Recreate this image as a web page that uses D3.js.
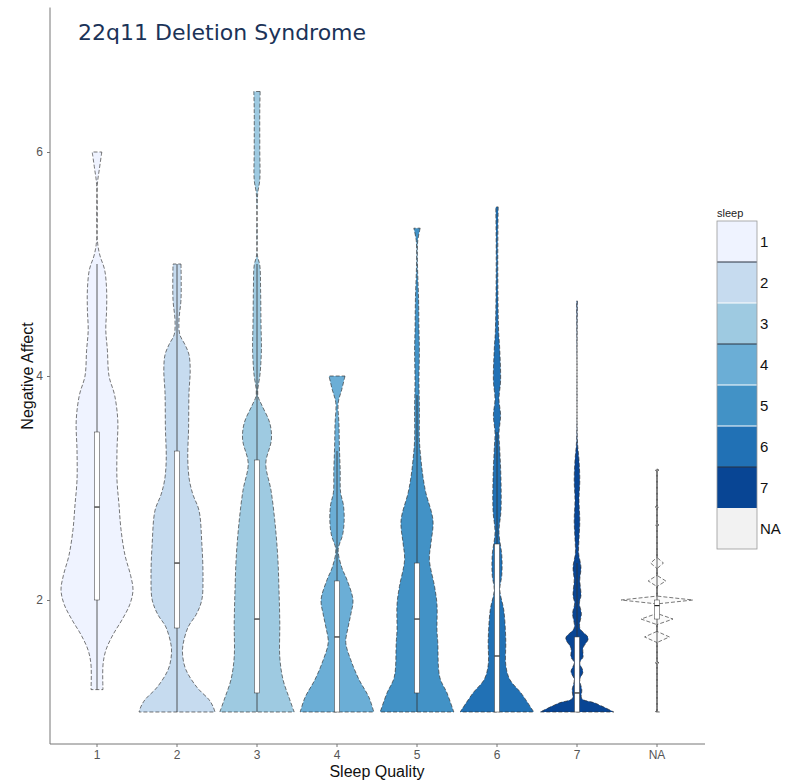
<!DOCTYPE html>
<html><head><meta charset="utf-8">
<script src="https://cdn.jsdelivr.net/npm/d3@7/dist/d3.min.js"></script>
<style>body{margin:0;background:#fff}</style>
</head><body><svg id="c" width="794" height="780"></svg>
<script>
const categories = ["1","2","3","4","5","6","7","NA"];
const fillColors = ["#eff3ff","#c6dbef","#9ecae1","#6baed6","#4292c6","#2171b5","#084594","#f2f2f2"];
const yTicks = [2,4,6];
const legendLabels = ["1","2","3","4","5","6","7","NA"];

// violin outlines: [Negative Affect value, relative density (half width)]
const violin1 = [[6.0,.12],[5.85,.06],[5.71,.01],[5.21,.01],[5.08,.07],[4.95,.19],[4.77,.24],[4.59,.24],[4.41,.22],[4.23,.26],[4.0,.3],[3.83,.44],[3.6,.52],[3.34,.5],[3.07,.5],[2.85,.55],[2.63,.6],[2.4,.7],[2.22,.84],[2.09,.9],[1.96,.82],[1.82,.62],[1.69,.4],[1.55,.22],[1.42,.15],[1.2,.15]];
const violin2 = [[5.0,.1],[4.68,.1],[4.5,.05],[4.37,.07],[4.28,.2],[4.19,.3],[4.05,.33],[3.85,.3],[3.54,.29],[3.25,.27],[3.07,.31],[2.94,.4],[2.8,.55],[2.51,.62],[2.2,.65],[2.0,.62],[1.87,.48],[1.76,.28],[1.6,.15],[1.51,.14],[1.38,.22],[1.22,.5],[1.11,.8],[1.05,.9],[1.0,.95]];
const violin3 = [[6.54,.08],[6.38,.07],[6.02,.07],[5.75,.07],[5.64,.02],[5.57,.01],[5.08,.01],[4.99,.07],[4.77,.09],[4.47,.1],[4.23,.11],[4.03,.08],[3.83,.02],[3.74,.12],[3.58,.32],[3.43,.36],[3.22,.22],[2.98,.35],[2.69,.45],[2.38,.52],[2.09,.55],[1.79,.57],[1.49,.57],[1.29,.65],[1.13,.8],[1.0,.93]];
const violin4 = [[4.0,.2],[3.88,.12],[3.76,.03],[3.57,.05],[3.37,.06],[3.16,.08],[2.96,.09],[2.85,.16],[2.71,.18],[2.58,.14],[2.45,.03],[2.29,.12],[2.18,.25],[2.0,.4],[1.88,.35],[1.76,.28],[1.62,.22],[1.46,.35],[1.29,.55],[1.13,.8],[1.0,.92]];
const violin5 = [[5.32,.08],[5.21,.02],[5.04,.01],[4.68,.04],[4.41,.05],[4.23,.06],[3.96,.05],[3.7,.06],[3.43,.06],[3.25,.1],[3.1,.15],[2.96,.22],[2.71,.4],[2.51,.35],[2.36,.31],[2.12,.44],[1.96,.5],[1.73,.5],[1.62,.52],[1.31,.57],[1.17,.75],[1.0,.92]];
const violin6 = [[5.51,.03],[5.04,.02],[4.41,.04],[4.23,.07],[3.96,.09],[3.79,.05],[3.65,.09],[3.49,.05],[3.34,.07],[3.07,.1],[2.8,.1],[2.6,.05],[2.4,.12],[2.22,.12],[2.09,.07],[1.91,.17],[1.64,.22],[1.42,.22],[1.29,.32],[1.17,.6],[1.0,.92]];
const violin7 = [[4.67,.01],[3.43,.01],[3.25,.05],[3.07,.07],[2.89,.05],[2.71,.07],[2.54,.05],[2.42,.04],[2.29,.1],[2.18,.07],[2.04,.1],[1.97,.06],[1.88,.11],[1.75,.07],[1.66,.28],[1.57,.15],[1.49,.15],[1.44,.07],[1.36,.15],[1.29,.07],[1.2,.12],[1.12,.12],[1.08,.45],[1.0,.92]];
const violinNA = [[3.17,0],[3.16,.05],[3.15,0],[2.84,0],[2.83,.05],[2.82,0],[2.68,0],[2.67,.05],[2.66,0],[2.38,0],[2.33,.16],[2.28,0],[2.22,0],[2.17,.22],[2.12,0],[2.035,0],[2.0,.9],[1.965,0],[1.88,0],[1.83,.4],[1.78,0],[1.72,0],[1.67,.31],[1.62,0],[1.45,0],[1.44,.05],[1.43,0],[1.01,0],[1.0,.06]];
const violins = [violin1,violin2,violin3,violin4,violin5,violin6,violin7,violinNA];

// box plot statistics
const whiskerLow  = [1.2, 1.0, 1.0, 1.0, 1.0, 1.0, 1.0, 1.0];
const boxQ1       = [2.0, 1.75,1.17,1.0, 1.17,1.0, 1.0, 1.83];
const boxMedian   = [2.83,2.33,1.83,1.67,1.83,1.5, 1.17,1.95];
const boxQ3       = [3.5, 3.33,3.25,2.17,2.33,2.5, 1.67,2.0];
const whiskerHigh = [5.0, 5.0, 5.0, 3.33,3.83,3.5, 2.33,3.17];

const svg = d3.select("#c");
svg.append("rect").attr("width",794).attr("height",780).attr("fill","#fff");

const x = d3.scaleBand().domain(categories).range([57,697]);
const y = d3.scaleLinear().domain([1,6]).range([712,152]);
const w = d3.scaleLinear().domain([0,1]).range([0,40]);
const color = d3.scaleOrdinal().domain(categories).range(fillColors);

// axes
const yAxis = svg.append("g").attr("transform","translate(50,0)")
  .call(d3.axisLeft(y).tickValues(yTicks).tickSize(3).tickPadding(4).tickFormat(d3.format("d")));
yAxis.select(".domain").remove();
yAxis.append("line").attr("x1",0).attr("x2",0).attr("y1",y(7.29)).attr("y2",y(0.714)).attr("stroke","#777");
yAxis.selectAll(".tick line").attr("stroke","#777");
yAxis.selectAll("text").attr("font-family","Liberation Sans, Arial, sans-serif").attr("font-size",12).attr("fill","#555");

const xAxis = svg.append("g").attr("transform","translate(0,744)")
  .call(d3.axisBottom(x).tickSize(3).tickPadding(3));
xAxis.select(".domain").remove();
xAxis.append("line").attr("x1",50).attr("x2",705).attr("y1",0).attr("y2",0).attr("stroke","#777");
xAxis.selectAll(".tick line").attr("stroke","#777");
xAxis.selectAll("text").attr("font-family","Liberation Sans, Arial, sans-serif").attr("font-size",12).attr("fill","#555");

// violins
const plot = svg.append("g");
categories.forEach((c,i)=>{
  const cx = x(c) + x.bandwidth()/2;
  const area = d3.area()
    .x0(d=>cx - w(d[1])).x1(d=>cx + w(d[1])).y(d=>y(d[0]))
    .curve(c==="NA" ? d3.curveLinear : d3.curveCatmullRom.alpha(0.5));
  plot.append("path").attr("d",area(violins[i]))
    .attr("fill",color(c)).attr("fill-opacity", c==="NA"?0.3:1)
    .attr("stroke","#2b2b2b").attr("stroke-opacity",0.8).attr("stroke-width",0.8)
    .attr("stroke-dasharray","4,2");
});

// boxplots
categories.forEach((c,i)=>{
  const cx = x(c) + x.bandwidth()/2;
  const g = plot.append("g");
  g.append("line").attr("x1",cx).attr("x2",cx).attr("y1",y(whiskerHigh[i])).attr("y2",y(boxQ3[i]))
    .attr("stroke","#333").attr("stroke-width",0.8);
  g.append("line").attr("x1",cx).attr("x2",cx).attr("y1",y(boxQ1[i])).attr("y2",y(whiskerLow[i]))
    .attr("stroke","#333").attr("stroke-width",0.8);
  g.append("rect").attr("x",cx-2.5).attr("width",5)
    .attr("y",y(boxQ3[i])).attr("height",y(boxQ1[i])-y(boxQ3[i]))
    .attr("fill","#fff").attr("stroke","#333").attr("stroke-width",0.5);
  g.append("line").attr("x1",cx-2.5).attr("x2",cx+2.5).attr("y1",y(boxMedian[i])).attr("y2",y(boxMedian[i]))
    .attr("stroke","#222").attr("stroke-width",1.2);
});

// titles
svg.append("text").attr("x",78).attr("y",40).text("22q11 Deletion Syndrome")
  .attr("font-family","DejaVu Sans, Verdana, sans-serif").attr("font-size",22).attr("fill","#1b3358");
svg.append("text").attr("x",377).attr("y",777).attr("text-anchor","middle").text("Sleep Quality")
  .attr("font-family","Liberation Sans, Arial, sans-serif").attr("font-size",16).attr("fill","#111");
svg.append("text").attr("transform","translate(33,376) rotate(-90)").attr("text-anchor","middle").text("Negative Affect")
  .attr("font-family","Liberation Sans, Arial, sans-serif").attr("font-size",16).attr("fill","#111");

// legend
const lg = svg.append("g").attr("transform","translate(717,221)");
const keyH = 41;
lg.append("text").attr("x",0).attr("y",-4).text("sleep")
  .attr("font-family","Liberation Sans, Arial, sans-serif").attr("font-size",11).attr("fill","#222");
legendLabels.forEach((l,i)=>{
  lg.append("rect").attr("x",0).attr("y",i*keyH).attr("width",40).attr("height",keyH).attr("fill",fillColors[i]);
  lg.append("text").attr("x",43).attr("y",i*keyH+keyH/2+5).text(l)
    .attr("font-family","Liberation Sans, Arial, sans-serif").attr("font-size",15).attr("fill","#111");
});
const sepDark = [1,3,6];
const sepLight = [2,4,5];
sepDark.forEach(k=>lg.append("line").attr("x1",0).attr("x2",40).attr("y1",k*keyH).attr("y2",k*keyH).attr("stroke","#2b3340").attr("stroke-width",1.2));
sepLight.forEach(k=>lg.append("line").attr("x1",0).attr("x2",40).attr("y1",k*keyH).attr("y2",k*keyH).attr("stroke","#fff").attr("stroke-width",1.2));
lg.append("rect").attr("x",0).attr("y",0).attr("width",40).attr("height",keyH*8).attr("fill","none").attr("stroke","#999").attr("stroke-width",0.8);
</script></body></html>
